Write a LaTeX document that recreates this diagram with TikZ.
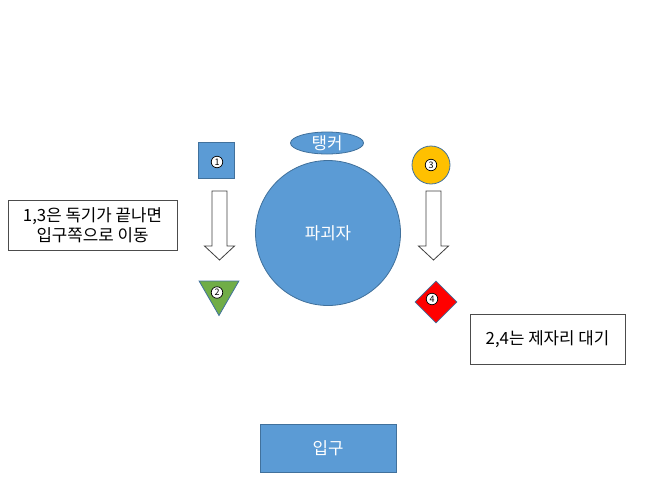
\documentclass[tikz,border=0pt]{standalone}
\usepackage{fontspec}
\setmainfont{Noto Sans CJK KR}
\usetikzlibrary{shapes.geometric,positioning}
\definecolor{officeblue}{HTML}{5B9BD5}
\definecolor{blueline}{HTML}{41719C}
\definecolor{officegreen}{HTML}{70AD47}
\definecolor{officeyellow}{HTML}{FFC000}

\begin{document}
\begin{tikzpicture}[x=1pt,y=-1pt,font=\fontsize{16.8}{20}\selectfont,
    part/.style={draw=blueline,line width=0.8pt,inner sep=0pt},
    num/.style={circle,draw=black,fill=white,line width=0.7pt,inner sep=0pt,
        minimum size=11.5pt,font=\fontsize{9}{9}\selectfont},
    note/.style={draw=black!70,fill=white,line width=0.8pt,align=center,inner sep=0pt,minimum height=50pt},
    blockarrow/.style={draw=black!75,fill=white,line width=0.8pt,line join=miter}]
\useasboundingbox (0,0) rectangle (646,491);

\node[part,fill=officeblue,minimum size=36pt] (p1) at (216,160) {};
\node[num] (c1) at (217,162) {1};
\node[part,ellipse,fill=officeblue,minimum width=73pt,minimum height=22pt,text=white] (tank) at (327,143) {탱커};
\node[part,circle,fill=officeblue,minimum size=145pt,text=white] (boss) at (328,233) {파괴자};
\node[part,circle,fill=officeyellow,minimum size=38pt] (p3) at (431,165) {};
\node[num] (c3) at (p3) {3};
\node[part,regular polygon,regular polygon sides=3,shape border rotate=180,
      fill=officegreen,minimum size=46pt] (p2) at (219,292.5) {};
\node[num] (c2) at (217,292.5) {2};
\node[part,diamond,fill=red,minimum width=42pt,minimum height=42pt] (p4) at (436,302) {};
\node[num] (c4) at (432,299) {4};

\node[note,minimum width=169pt] (move) at (92.5,225) {1,3은 독기가 끝나면\\입구쪽으로 이동};
\node[note,minimum width=155pt] (stay) at (547.5,339) {2,4는 제자리 대기};
\node[part,fill=officeblue,minimum width=136pt,minimum height=48pt,text=white] (gate) at (328,448) {입구};

% block arrows
\coordinate (a1) at (219.5,191);
\coordinate (a3) at (433.5,191);
\draw[blockarrow] (a1) ++(-7.5,0) -- ++(15,0) -- ++(0,55) -- ++(7.5,0) -- ++(-15,14) -- ++(-15,-14) -- ++(7.5,0) -- cycle;
\draw[blockarrow] (a3) ++(-7.5,0) -- ++(15,0) -- ++(0,55) -- ++(7.5,0) -- ++(-15,14) -- ++(-15,-14) -- ++(7.5,0) -- cycle;
\end{tikzpicture}
\end{document}
